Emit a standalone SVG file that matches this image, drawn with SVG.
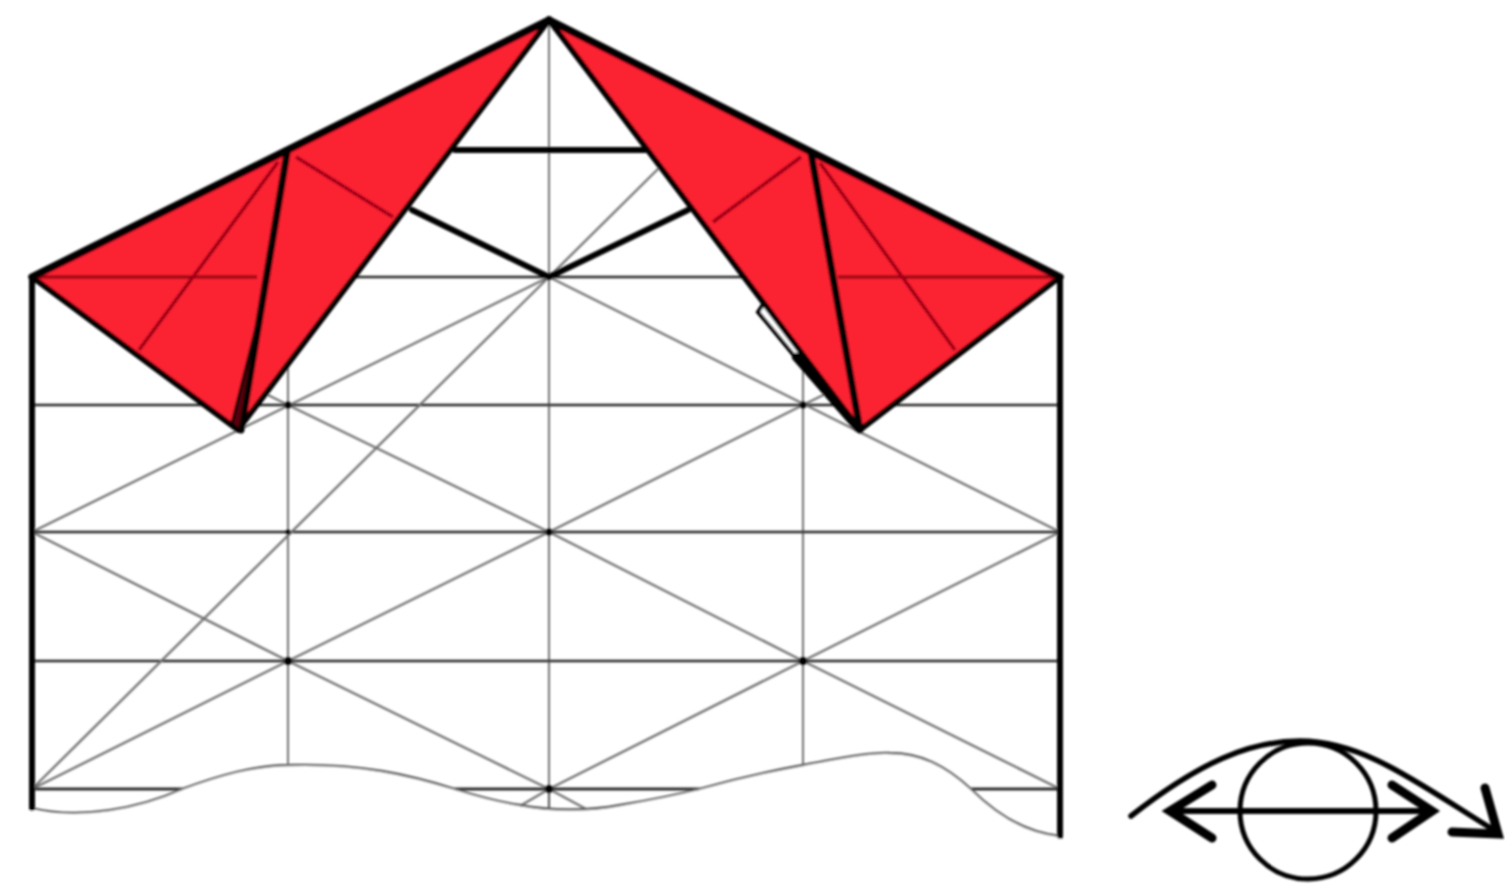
<svg xmlns="http://www.w3.org/2000/svg" width="1505" height="892" viewBox="0 0 1505 892">
<style>
.grid{stroke:#222;stroke-width:2.5;fill:none}
.vert{stroke:#444;stroke-width:1.5;fill:none}
.diag{stroke:#707070;stroke-width:2.3;fill:none}
.thick{stroke:#000;stroke-width:6;fill:none;stroke-linejoin:round;stroke-linecap:round}
.fold{stroke:#a00618;stroke-width:3.6;fill:none}
.red{fill:#fb2133;stroke:#000;stroke-width:5.5;stroke-linejoin:round}
.top{stroke:#000;stroke-width:7.5;fill:none;stroke-linecap:round;stroke-linejoin:round}
.eye{stroke:#000;fill:none;stroke-linecap:round;stroke-linejoin:miter}
.dot{fill:#000}
</style>
<defs><filter id="soft" x="-5%" y="-5%" width="110%" height="110%"><feGaussianBlur stdDeviation="0.8"/></filter></defs>
<rect width="1505" height="892" fill="#fff"/>
<g filter="url(#soft)">
<g id="grid">
<path class="grid" d="M32 277H1060M32 405H1060M32 532H1060M32 661H1060M32 789H1060"/>
<path class="vert" d="M549 20V808M288 152V770M803 152V770"/>
<path class="diag" d="M32 532L549 277L1060 532M32 789L288 661L549 532L803 405L860 377M1060 789L803 661L549 532L288 405L238 380M32 532L288 661L549 789L803 661L1060 532M32 789L662 165"/>
<path fill="#fff" d="M30 810C80 822 140 808 182 789C220 775 255 765 290 765C360 763 410 775 455 789C480 797 500 802 520 805C550 811 590 811 620 805C650 800 675 795 699 789C735 779 770 771 803 765C840 758 870 752 890 753C920 753 945 765 971 789C990 808 1020 832 1060 836V892H30Z"/>
<path class="grid" d="M36 789H182M455 789H699M971 789H1060"/>
<path class="diag" d="M549 789L520 806M549 789L586 809"/>
<path class="vert" d="M549 789V808"/>
<path class="diag" style="stroke:#606060" d="M32 808C80 820 140 808 182 789C220 775 255 765 290 765C360 763 410 775 455 789C480 797 500 802 520 805C550 811 590 811 620 805C650 800 675 795 699 789C735 779 770 771 803 765C840 758 870 752 890 753C920 753 945 765 971 789C990 808 1020 832 1060 836"/>
<path class="thick" d="M32 277V808M1060 277V836"/>
<path class="thick" d="M455 150H645M412 210L549 277L688 210"/>
<circle class="dot" cx="288" cy="661" r="4"/>
<circle class="dot" cx="803" cy="661" r="4"/>
<circle class="dot" cx="549" cy="532" r="3.5"/>
<circle class="dot" cx="549" cy="789" r="4"/>
<circle class="dot" cx="288" cy="405" r="3.5"/>
<circle class="dot" cx="803" cy="405" r="3.5"/>
<circle class="dot" cx="288" cy="532" r="2.5"/>
</g>
<g id="left-flap">
<path class="red" d="M32 277L549 20L238 430Z"/>
<path class="fold" d="M278 162L139 350M32 277H257M296 157L393 217"/>
<path class="thick" style="stroke-width:7" d="M287 153L241 430"/>
<path d="M258 320L232 424L240 431Z" fill="#5a0010" stroke="#000" stroke-width="3" stroke-linejoin="round"/>
<path class="top" d="M32 277L549 20"/>
</g>
<g id="right-flap">
<path d="M758 312L764 303L802 353L796 358Z" fill="#fff" stroke="#000" stroke-width="4"/>
<path class="red" d="M1060 277L549 20L860 430Z"/>
<path class="fold" d="M801 157L713 222M820 163L955 350M838 277H1060"/>
<path class="thick" style="stroke-width:7" d="M811 153L860 430"/>
<path class="thick" style="stroke-width:8.5" d="M796 357L858 428"/>
<path class="top" d="M549 20L1060 277"/>
</g>
<g id="eye">
<circle class="eye" cx="1308" cy="811" r="68" stroke-width="5"/>
<path class="eye" stroke-width="5.5" d="M1131 816C1200 762 1250 741 1300 741C1365 741 1420 785 1497 832"/>
<path class="eye" stroke-width="6" d="M1170 811H1430"/>
<path class="eye" stroke-width="9" d="M1212 785L1170 811L1212 838M1392 785L1432 811L1392 838"/>
<path class="eye" stroke-width="9" d="M1485 788L1498 834L1452 832"/>
</g>
</g>
</svg>
